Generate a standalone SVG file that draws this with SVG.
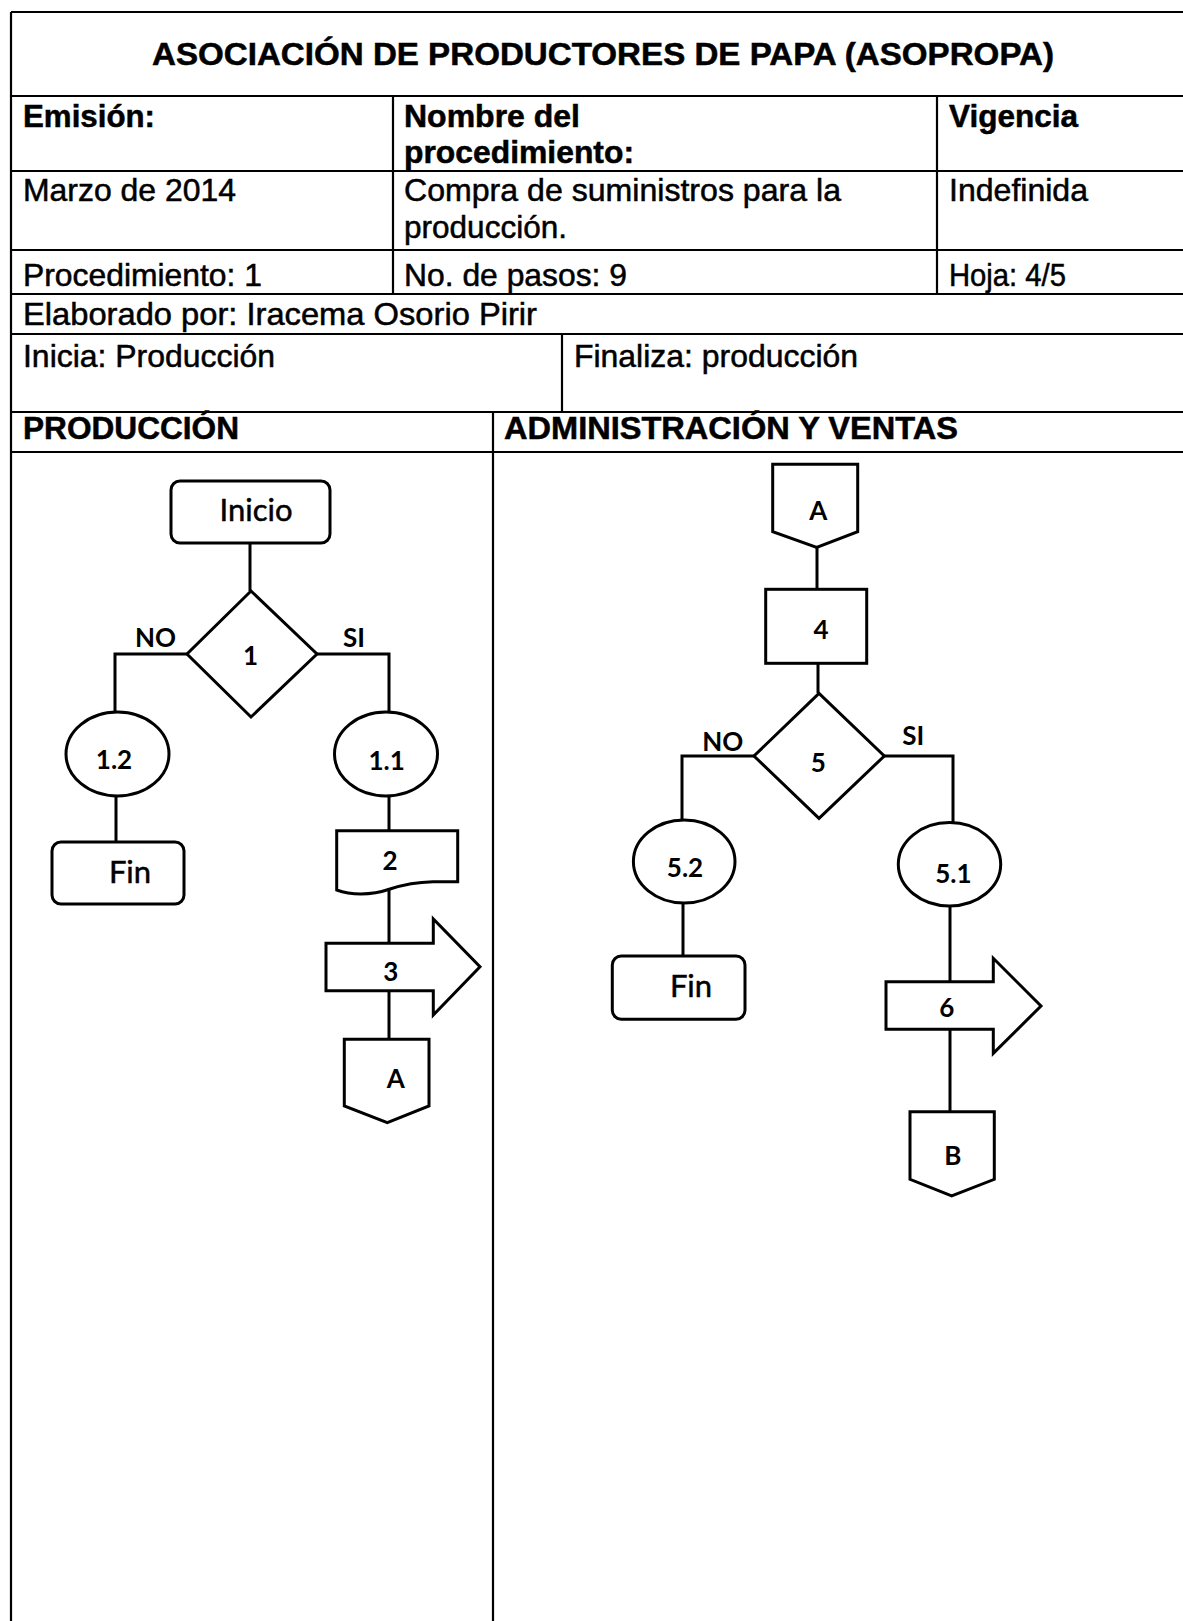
<svg xmlns="http://www.w3.org/2000/svg" width="1183" height="1621" viewBox="0 0 1183 1621">
<style>
.tl{stroke:#000;stroke-width:2.2;fill:none}
.h{font-family:"Liberation Sans",Arial,sans-serif;font-size:30.5px;fill:#000;stroke:#000;stroke-width:0.5}
.b{font-weight:bold}
.s{fill:#fff;stroke:#000;stroke-width:3;stroke-linejoin:miter}
.c{stroke:#000;stroke-width:3;fill:none}
.f{font-family:Lato,"Open Sans",sans-serif;fill:#000;text-anchor:middle}
.n{font-size:26px;font-weight:bold}
.l{font-size:31px;stroke:#000;stroke-width:0.5}
</style>
<rect width="1183" height="1621" fill="#fff"/>
<g id="table">
<line class="tl" x1="11" y1="12" x2="1183" y2="12"/>
<line class="tl" x1="11" y1="12" x2="11" y2="1621"/>
<line class="tl" x1="11" y1="96" x2="1183" y2="96"/>
<line class="tl" x1="11" y1="171" x2="1183" y2="171"/>
<line class="tl" x1="11" y1="250" x2="1183" y2="250"/>
<line class="tl" x1="11" y1="294" x2="1183" y2="294"/>
<line class="tl" x1="11" y1="334" x2="1183" y2="334"/>
<line class="tl" x1="11" y1="412" x2="1183" y2="412"/>
<line class="tl" x1="11" y1="452" x2="1183" y2="452"/>
<line class="tl" x1="393" y1="96" x2="393" y2="294"/>
<line class="tl" x1="937" y1="96" x2="937" y2="294"/>
<line class="tl" x1="562" y1="334" x2="562" y2="412"/>
<line class="tl" x1="493" y1="412" x2="493" y2="1621"/>
<text class="h b" x="152" y="65" textLength="902" lengthAdjust="spacingAndGlyphs" font-size="33">ASOCIACIÓN  DE PRODUCTORES DE PAPA  (ASOPROPA)</text>
<text class="h b" x="23" y="127" textLength="132" lengthAdjust="spacingAndGlyphs">Emisión:</text>
<text class="h b" x="404" y="127" textLength="176" lengthAdjust="spacingAndGlyphs">Nombre del</text>
<text class="h b" x="404" y="163" textLength="230" lengthAdjust="spacingAndGlyphs">procedimiento:</text>
<text class="h b" x="949" y="127" textLength="129" lengthAdjust="spacingAndGlyphs">Vigencia</text>
<text class="h" x="23" y="201" textLength="213" lengthAdjust="spacingAndGlyphs">Marzo de 2014</text>
<text class="h" x="404" y="201" textLength="437" lengthAdjust="spacingAndGlyphs">Compra de suministros para la</text>
<text class="h" x="404" y="238" textLength="163" lengthAdjust="spacingAndGlyphs">producción.</text>
<text class="h" x="949" y="201" textLength="139" lengthAdjust="spacingAndGlyphs">Indefinida</text>
<text class="h" x="23" y="286" textLength="239" lengthAdjust="spacingAndGlyphs">Procedimiento: 1</text>
<text class="h" x="404" y="286" textLength="223" lengthAdjust="spacingAndGlyphs">No. de pasos: 9</text>
<text class="h" x="949" y="286" textLength="117" lengthAdjust="spacingAndGlyphs">Hoja: 4/5</text>
<text class="h" x="23" y="325" textLength="514" lengthAdjust="spacingAndGlyphs">Elaborado por:  Iracema Osorio Pirir</text>
<text class="h" x="23" y="367" textLength="252" lengthAdjust="spacingAndGlyphs">Inicia: Producción</text>
<text class="h" x="574" y="367" textLength="284" lengthAdjust="spacingAndGlyphs">Finaliza: producción</text>
<text class="h b" x="23" y="439" textLength="216" lengthAdjust="spacingAndGlyphs">PRODUCCIÓN</text>
<text class="h b" x="504" y="439" textLength="454" lengthAdjust="spacingAndGlyphs">ADMINISTRACIÓN Y VENTAS</text>
</g>
<g id="connectors">
<polyline class="c" points="250,543 250,591"/>
<polyline class="c" points="187,654 115,654 115,713"/>
<polyline class="c" points="317,654 389,654 389,712"/>
<polyline class="c" points="116,796 116,842"/>
<polyline class="c" points="389,796 389,831"/>
<polyline class="c" points="389,888 389,943"/>
<polyline class="c" points="389,991 389,1039"/>
<polyline class="c" points="817,547 817,589"/>
<polyline class="c" points="818,663 818,693"/>
<polyline class="c" points="754,756 682,756 682,820"/>
<polyline class="c" points="884,756 953,756 953,823"/>
<polyline class="c" points="683,903 683,956"/>
<polyline class="c" points="950,906 950,982"/>
<polyline class="c" points="950,1029 950,1112"/>
<text class="f n" x="155.5" y="647">NO</text>
<text class="f n" x="354" y="647">SI</text>
<text class="f n" x="722.7" y="751">NO</text>
<text class="f n" x="913.3" y="745">SI</text>
</g>
<g id="n-inicio">
<rect class="s" x="171" y="481" width="159" height="62" rx="9"/>
<text class="f l" x="256" y="521">Inicio</text>
</g>
<g id="n-1">
<polygon class="s" points="251,591 317,654 251,717 187,654"/>
<text class="f n" x="250.5" y="665">1</text>
</g>
<g id="n-1-2">
<ellipse class="s" cx="117.5" cy="754" rx="51.5" ry="42"/>
<text class="f n" x="114" y="769">1.2</text>
</g>
<g id="n-fin1">
<rect class="s" x="52" y="842" width="132" height="62" rx="9"/>
<text class="f l" x="130" y="883" font-size="32">Fin</text>
</g>
<g id="n-1-1">
<ellipse class="s" cx="386" cy="754" rx="51.5" ry="42"/>
<text class="f n" x="386.7" y="770">1.1</text>
</g>
<g id="n-2">
<path class="s" d="M336.7,830.7 H457.7 V881.7 H433 C420,882 405,884 390,889 C370,896 350,895 336.7,890 Z"/>
<text class="f n" x="390" y="870">2</text>
</g>
<g id="n-3">
<polygon class="s" points="326,943.3 433.3,943.3 433.3,919 480,966.7 433.3,1015 433.3,990.7 326,990.7"/>
<text class="f n" x="390.7" y="980.7">3</text>
</g>
<g id="n-a1">
<polygon class="s" points="344.3,1039.3 429,1039.3 429,1106 387.3,1122.7 344.3,1106"/>
<text class="f n" x="395.7" y="1088">A</text>
</g>
<g id="n-a2">
<polygon class="s" points="772.7,464.3 857.7,464.3 857.7,531.7 816.7,547.3 772.7,531.7"/>
<text class="f n" x="818.3" y="520">A</text>
</g>
<g id="n-4">
<rect class="s" x="765.7" y="589.3" width="101" height="74"/>
<text class="f n" x="821" y="639">4</text>
</g>
<g id="n-5">
<polygon class="s" points="819,693.3 884.3,756 819,818.3 754,756"/>
<text class="f n" x="818.3" y="771.7">5</text>
</g>
<g id="n-5-2">
<ellipse class="s" cx="684.2" cy="861.5" rx="50.8" ry="41.5"/>
<text class="f n" x="685" y="876.7">5.2</text>
</g>
<g id="n-fin2">
<rect class="s" x="612.3" y="956" width="132.7" height="63.3" rx="9"/>
<text class="f l" x="691" y="997.3" font-size="32">Fin</text>
</g>
<g id="n-5-1">
<ellipse class="s" cx="949.5" cy="864.3" rx="51.2" ry="41.7"/>
<text class="f n" x="953.3" y="883.3">5.1</text>
</g>
<g id="n-6">
<polygon class="s" points="886,981.7 993.3,981.7 993.3,958.3 1041,1006 993.3,1053.3 993.3,1029.3 886,1029.3"/>
<text class="f n" x="946.7" y="1017.3">6</text>
</g>
<g id="n-b">
<polygon class="s" points="910,1111.7 994.3,1111.7 994.3,1179.3 951.7,1196 910,1179.3"/>
<text class="f n" x="952.7" y="1165">B</text>
</g>
</svg>
